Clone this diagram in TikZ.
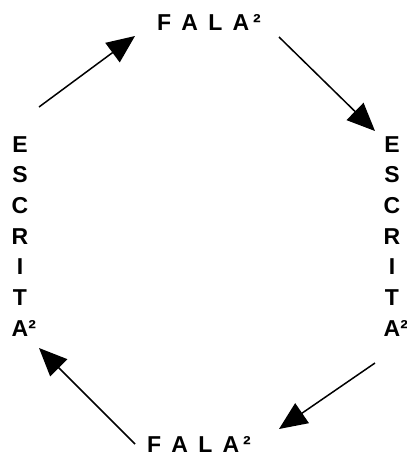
\documentclass[tikz,border=0pt]{standalone}
\usepackage{fontspec}
\setmainfont{Liberation Sans}
\newfontfamily\espacada[WordSpace=1.6]{Liberation Sans}
\usetikzlibrary{arrows.meta}
\tikzset{
  letra/.style={font=\fontsize{23}{27}\selectfont\bfseries, inner sep=0pt, anchor=base},
  seta/.style={-{Triangle[length=28pt,width=24pt]}, line width=1.5pt},
}
\begin{document}
\begin{tikzpicture}[x=1pt,y=-1pt]
  \useasboundingbox (0,0) rectangle (407,461);
  \node[letra] (falacima) at (209,30) {\espacada F A L A\hspace{4pt}²};
  \node[letra] (falabaixo) at (199,452) {\espacada F A L A\hspace{4pt}²};
  \foreach \l [count=\i] in {E,S,C,R,I,T,A\rlap{²}} {
    \node[letra] (esq\i) at (20,{152+30.7*(\i-1)}) {\l};
    \node[letra] (dir\i) at (392,{152+30.7*(\i-1)}) {\l};
  }
  \coordinate (s1a) at (39,107);  \coordinate (s1b) at (135,36);
  \coordinate (s2a) at (279,37);  \coordinate (s2b) at (375,131);
  \coordinate (s3a) at (375,363); \coordinate (s3b) at (279,429);
  \coordinate (s4a) at (135,444); \coordinate (s4b) at (39,348);
  \draw[seta] (s1a) -- (s1b);
  \draw[seta] (s2a) -- (s2b);
  \draw[seta] (s3a) -- (s3b);
  \draw[seta] (s4a) -- (s4b);
\end{tikzpicture}
\end{document}
